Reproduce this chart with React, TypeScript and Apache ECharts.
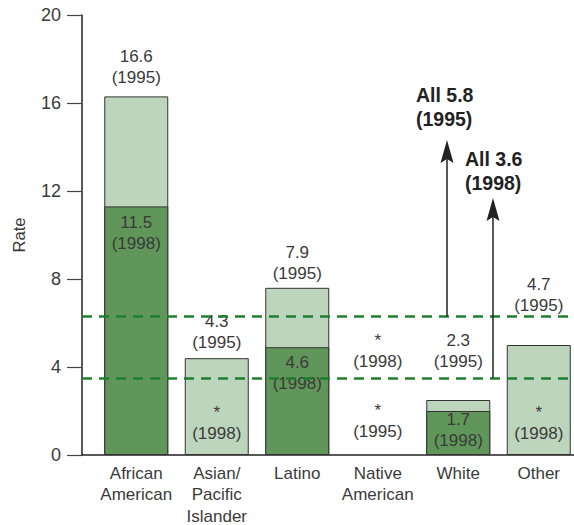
import React, { useEffect, useRef } from "react";
import * as echarts from "echarts";

const categories = ["African\nAmerican", "Asian/\nPacific\nIslander", "Latino", "Native\nAmerican", "White", "Other"];
// bar heights as drawn (0 = no bar / not reported)
const rate1995 = [16.3, 4.4, 7.6, 0, 2.5, 5.0];
const rate1998 = [11.3, 0, 4.9, 0, 2.0, 0];
const label1995 = ["16.6", "4.3", "7.9", "*", "2.3", "4.7"];
const label1998 = ["11.5", "*", "4.6", "*", "1.7", "*"];
const missing1995 = [false, false, false, true, false, false];
const missing1998 = [false, true, false, true, false, true];
const allRates = [6.3, 3.5];
const allLabels = ["All 5.8\n(1995)", "All 3.6\n(1998)"];

const FONT = "Liberation Sans";
const TEXT = "#3a3a3a";

const pos1995: any[] = [
  ["top", 8], ["top", 5], ["top", 4], ["top", 13], ["top", 28], ["top", 29.5],
];
const pos1998: any[] = [
  ["insideTop", 6], ["top", 11.5], ["insideTop", 5], ["top", 83], ["insideBottom", 4], ["top", 11],
];

export default function App() {
  const ref = useRef<HTMLDivElement>(null);
  useEffect(() => {
    document.body.style.margin = "0";
    const chart = echarts.init(ref.current!, undefined, { renderer: "svg" });
    const labelBase = { fontFamily: FONT, fontSize: 17, lineHeight: 21, color: TEXT, align: "center" };
    const option: any = {
      animation: false,
      grid: [
        { left: 96, width: 483, top: 15, bottom: 70, outerBoundsMode: "none", containLabel: false },
        { left: 82, right: 0, top: 15, bottom: 70, outerBoundsMode: "none", containLabel: false },
      ],
      xAxis: [
        {
          type: "category", gridIndex: 0, data: categories,
          axisLine: { show: false }, axisTick: { show: false },
          axisLabel: { fontFamily: FONT, fontSize: 17, lineHeight: 21.5, color: TEXT, margin: 7.5, interval: 0 },
        },
        {
          type: "category", gridIndex: 1, data: ["x"],
          axisLine: { show: true, lineStyle: { color: "#222", width: 1.5 } },
          axisTick: { show: false }, axisLabel: { show: false },
        },
      ],
      yAxis: [
        { type: "value", gridIndex: 0, min: 0, max: 20, interval: 4, show: false },
        {
          type: "value", gridIndex: 1, min: 0, max: 20, interval: 4,
          name: "Rate", nameLocation: "middle", nameGap: 55,
          nameTextStyle: { fontFamily: FONT, fontSize: 16.5, color: TEXT },
          axisLine: { show: true, lineStyle: { color: "#222", width: 1.5 } },
          axisTick: { show: true, length: 15, lineStyle: { color: "#444", width: 1.2 } },
          axisLabel: { fontFamily: FONT, fontSize: 18, color: TEXT, margin: 21 },
          splitLine: { show: false },
        },
      ],
      series: [
        {
          type: "bar", xAxisIndex: 0, yAxisIndex: 0, barWidth: 64, barGap: "-100%", z: 2,
          data: rate1995.map((v, i) => ({
            value: v,
            itemStyle: missing1995[i]
              ? { color: "transparent", borderWidth: 0 }
              : { color: "#bdd5bc", borderColor: "#333", borderWidth: 1 },
            label: { ...labelBase, show: true, position: pos1995[i][0], distance: pos1995[i][1],
              formatter: label1995[i] + "\n(1995)" },
          })),
        },
        {
          type: "bar", xAxisIndex: 0, yAxisIndex: 0, barWidth: 64, barGap: "-100%", z: 3,
          data: rate1998.map((v, i) => ({
            value: v,
            itemStyle: missing1998[i]
              ? { color: "transparent", borderWidth: 0 }
              : { color: "#609659", borderColor: "#333", borderWidth: 1 },
            label: { ...labelBase, show: true, position: pos1998[i][0], distance: pos1998[i][1],
              formatter: label1998[i] + "\n(1998)" },
          })),
        },
        {
          type: "line", xAxisIndex: 1, yAxisIndex: 1, data: [null], z: 10, silent: true,
          markLine: {
            silent: true, symbol: "none", z: 10,
            label: { show: false },
            lineStyle: { color: "#1f7f2f", width: 2.5, type: [10, 7] },
            data: allRates.map((v) => ({ yAxis: v })),
          },
        },
      ],
    };
    chart.setOption(option);
    const arrowX = [447, 493];
    const arrowTop = [140, 198];
    const labelPos = [[416, 83], [465, 147]];
    const graphics: any[] = [];
    allRates.forEach((v, i) => {
      const yBase = chart.convertToPixel({ yAxisIndex: 1 } as any, v) as number;
      const x = arrowX[i];
      const t = arrowTop[i];
      graphics.push({
        type: "line", z: 20,
        shape: { x1: x, y1: yBase, x2: x, y2: t + 16 },
        style: { stroke: "#222", lineWidth: 1.5 },
      });
      graphics.push({
        type: "polygon", z: 20,
        shape: { points: [[x, t], [x - 6.5, t + 23], [x, t + 19], [x + 6.5, t + 23]] },
        style: { fill: "#222" },
      });
      graphics.push({
        type: "text", z: 20, x: labelPos[i][0], y: labelPos[i][1],
        style: { text: allLabels[i], fontFamily: FONT, fontSize: 19.5, fontWeight: "bold",
          lineHeight: 24, fill: "#222" },
      });
    });
    chart.setOption({ graphic: graphics });
    return () => chart.dispose();
  }, []);
  return <div ref={ref} style={{ width: 574, height: 525 }} />;
}
